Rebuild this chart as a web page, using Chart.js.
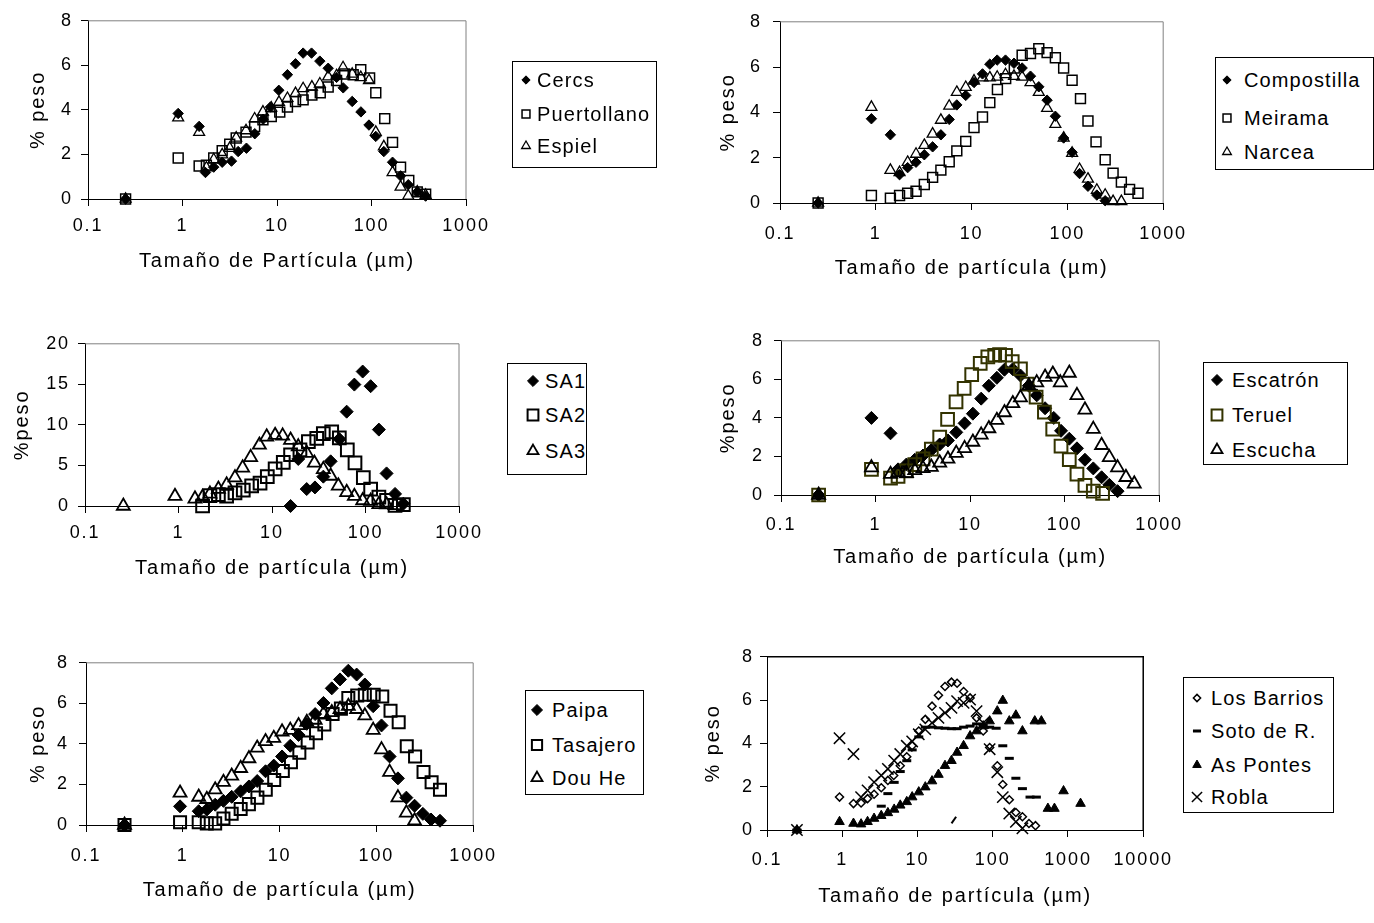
<!DOCTYPE html>
<html>
<head>
<meta charset="utf-8">
<script src="https://cdn.jsdelivr.net/npm/chart.js@4.4.0/dist/chart.umd.min.js"></script>
<style>
  body { margin: 0; width: 1374px; height: 923px; position: relative; overflow: hidden; background: #fff;
         font-family: "Liberation Sans", Arial, sans-serif; }
  canvas.panel { position: absolute; }
  .legend { position: absolute; border: 1px solid #000; background: #fff; box-sizing: border-box; }
  .legend span { position: absolute; font-size: 20px; letter-spacing: 1.1px; line-height: 1; color: #000; white-space: nowrap; transform: translateY(-50%); }
  .legend canvas { position: absolute; }
</style>
</head>
<body>
<canvas id="c1" class="panel"></canvas>
<canvas id="c2" class="panel"></canvas>
<canvas id="c3" class="panel"></canvas>
<canvas id="c4" class="panel"></canvas>
<canvas id="c5" class="panel"></canvas>
<canvas id="c6" class="panel"></canvas>
<script>
// ---- data: [particle size (µm), % peso] ----
const cercs = [[0.25,0],[0.9,3.84],[1.5,3.26],[1.75,1.19],[2.14,1.43],[2.63,1.65],[3.3,1.7],[3.88,2.13],[4.75,2.28],[5.82,2.93],[7.13,3.58],[8.53,4.13],[10.45,4.88],[12.9,5.58],[15.7,6.07],[18.9,6.55],[23.2,6.55],[28.4,6.19],[34.8,5.87],[42.7,5.46],[50.2,4.99],[62.5,4.38],[77.3,3.91],[94,3.32],[111,2.81],[135,2.13],[167,1.65],[203,1.04],[245,0.64],[305,0.32],[374,0.13]];
const puertollano = [[0.25,0],[0.9,1.84],[1.5,1.48],[1.79,1.52],[2.14,1.84],[2.63,2.17],[3.16,2.46],[3.7,2.74],[4.7,3.0],[5.8,3.25],[7.1,3.55],[8.7,3.7],[10.7,3.9],[12.9,4.13],[15.7,4.38],[18.9,4.45],[23.4,4.67],[28.7,4.77],[34.8,5.03],[42.7,5.32],[52,5.61],[64,5.58],[77,5.8],[95.5,5.43],[111,4.77],[138,3.61],[167,2.54],[203,1.43],[248,0.83],[305,0.32],[374,0.22]];
const espiel = [[0.25,0],[0.9,3.65],[1.5,3.0],[1.79,1.4],[2.14,1.77],[2.63,1.99],[3.16,2.28],[3.7,2.74],[4.7,3.07],[5.8,3.6],[7.1,3.91],[8.7,4.09],[10.5,4.35],[12.9,4.52],[15.7,4.74],[18.9,4.96],[23.4,5.03],[28.4,5.17],[34.8,5.49],[42.7,5.54],[50,5.9],[62.5,5.61],[77,5.46],[94,5.32],[111,3.0],[135,2.35],[167,1.19],[203,0.54],[245,0.14],[305,0.32],[374,0.17]];

const compostilla = [[0.25,0],[0.9,3.72],[1.42,3.01],[1.77,1.25],[2.15,1.56],[2.63,1.8],[3.21,2.13],[3.92,2.48],[4.78,3.01],[5.84,3.69],[7.01,4.33],[8.69,4.75],[10.6,5.32],[13,5.7],[15.5,6.13],[18.5,6.31],[22.6,6.31],[27.7,6.17],[33.7,5.96],[41.2,5.6],[50.3,5.13],[61.4,4.54],[74.9,3.83],[91.4,2.87],[112,2.24],[134,1.3],[164,0.74],[203,0.35],[248,0.1]];
const meirama = [[0.25,0],[0.9,0.33],[1.42,0.21],[1.77,0.33],[2.15,0.43],[2.63,0.52],[3.21,0.82],[3.92,1.13],[4.78,1.45],[5.84,1.82],[7.01,2.3],[8.69,2.72],[10.6,3.33],[13,3.8],[15.5,4.43],[18.6,5.01],[22.7,5.49],[27.9,5.96],[33.7,6.52],[41.2,6.6],[50.3,6.81],[61.4,6.64],[74.9,6.41],[91.4,5.96],[112,5.42],[137,4.61],[164,3.62],[199,2.7],[248,1.91],[300,1.32],[366,0.92],[446,0.6],[546,0.43]];
const narcea = [[0.25,0],[0.9,4.23],[1.42,1.45],[1.77,1.35],[2.15,1.8],[2.63,2.16],[3.21,2.55],[3.92,3.05],[4.78,3.66],[5.84,4.28],[7.01,4.89],[8.69,5.11],[10.6,5.39],[13,5.53],[15.5,5.53],[18.5,5.56],[22.6,5.67],[27.7,5.6],[33.7,5.56],[41.2,5.32],[50.3,4.89],[61.4,4.18],[74.9,3.48],[91.4,2.87],[112,2.2],[134,1.49],[164,1.06],[203,0.57],[248,0.35],[300,0.07],[366,0.07]];

const sa1 = [[15.8,0],[19.1,5.8],[23.5,2.09],[28.8,2.29],[35.4,3.62],[42.4,5.51],[52.5,8.25],[62.9,11.63],[76,14.97],[93.3,16.58],[113.5,14.77],[139,9.42],[168,4.02],[207,1.49],[254,0.28]];
const sa2 = [[1.81,0],[2.17,1.29],[2.67,1.41],[3.27,1.21],[4.02,1.61],[4.93,1.97],[6.06,2.49],[7.45,2.82],[8.91,3.62],[10.8,4.59],[13.2,5.39],[15.8,6.32],[19.9,6.92],[24.5,7.93],[30.1,8.33],[35.4,8.93],[43.5,9.13],[52.5,8.41],[63.9,6.92],[77.2,5.31],[94.8,3.5],[113.5,2.09],[139,1.09],[168,0.68],[207,0.08],[254,0.16]];
const sa3 = [[0.257,0],[0.917,1.21],[1.5,0.89],[1.81,1.09],[2.17,1.49],[2.67,2.09],[3.27,2.62],[4.02,3.5],[4.85,4.71],[5.91,6.0],[7.33,7.53],[8.77,8.53],[10.8,8.73],[13,8.65],[15.8,8.13],[19.1,7.32],[23.5,6.52],[28.4,5.31],[35.4,4.51],[42.4,3.7],[51.2,2.49],[62.9,1.69],[76,1.21],[93.3,0.68],[113.5,0.6],[139,0.2],[168,0.16],[207,0.08]];

const escatron = [[0.25,0],[0.905,4.0],[1.44,3.2],[1.73,1.33],[2.12,1.58],[2.6,1.83],[3.18,2.05],[3.89,2.33],[4.77,2.62],[5.83,2.83],[7.14,3.25],[8.75,3.72],[10.7,4.22],[13.1,5.0],[15.8,5.67],[19.2,6.08],[23.1,6.5],[28.3,6.53],[34.1,6.2],[41.8,5.67],[50.7,5.17],[62.1,4.5],[76.7,4.0],[91.6,3.33],[112,2.92],[135,2.42],[164,1.83],[201,1.38],[246,0.92],[297,0.53],[363,0.2]];
const teruel = [[0.25,0],[0.905,1.33],[1.44,0.88],[1.73,0.97],[2.12,1.25],[2.6,1.58],[3.18,1.87],[3.89,2.38],[4.77,3.0],[5.78,3.92],[7.1,4.83],[8.65,5.53],[10.4,6.25],[12.8,6.83],[15.4,7.17],[18.2,7.25],[20.5,7.28],[23.7,7.25],[27.9,6.92],[34.1,6.55],[40.1,5.75],[49.9,5.08],[61.1,4.3],[74.8,3.42],[91.6,2.53],[112,1.83],[135,1.08],[164,0.5],[201,0.2],[252,0.08]];
const escucha = [[0.25,0],[0.905,1.42],[1.44,1.08],[1.73,1.17],[2.12,1.12],[2.6,1.28],[3.18,1.38],[3.89,1.45],[4.77,1.67],[5.83,1.87],[7.14,2.17],[8.75,2.42],[10.7,2.75],[13.1,3.12],[15.8,3.45],[19.2,3.88],[23.1,4.28],[28.3,4.75],[34.1,5.05],[41.8,5.67],[50.7,5.83],[62.1,6.12],[75,6.28],[90,5.83],[112,6.33],[135,5.17],[164,4.42],[201,3.42],[246,2.58],[297,1.95],[363,1.42],[445,0.92],[545,0.58]];

const paipa = [[0.25,0],[0.937,0.92],[1.46,0.68],[1.77,0.76],[2.16,1.0],[2.63,1.19],[3.2,1.39],[3.96,1.66],[4.82,1.9],[5.87,2.17],[7.16,2.65],[8.71,2.93],[10.6,3.38],[12.9,3.91],[15.7,4.44],[19.1,4.99],[23.3,5.47],[28.4,6.02],[34.6,6.74],[42.1,7.18],[51.3,7.61],[62.5,7.42],[76,6.93],[92.7,5.86],[113,4.91],[137,3.38],[167,2.3],[204,1.35],[248,0.95],[302,0.55],[367,0.27],[454,0.21]];
const tasajero = [[0.25,0],[0.937,0.13],[1.46,0.13],[1.77,0.08],[2.16,0.08],[2.63,0.32],[3.2,0.55],[3.96,0.79],[4.82,1.03],[5.9,1.35],[7.2,1.74],[8.8,2.22],[10.8,2.66],[13.1,3.09],[16,3.57],[19.5,4.07],[23.8,4.52],[29,4.96],[35.3,5.47],[43,5.74],[51.3,6.26],[63.4,6.39],[76,6.42],[93.8,6.42],[115,6.34],[140,5.63],[170,5.07],[206,3.88],[251,3.38],[307,2.61],[372,2.11],[454,1.74]];
const douHe = [[0.25,0],[0.937,1.58],[1.46,1.38],[1.77,1.27],[2.16,1.74],[2.63,2.11],[3.2,2.42],[3.96,2.8],[4.82,3.28],[5.87,3.8],[7.16,4.12],[8.71,4.28],[10.6,4.6],[12.9,4.68],[15.7,4.91],[19.1,5.07],[23.3,5.18],[28.4,5.47],[34.6,5.55],[42.1,5.71],[51.3,5.86],[62.5,5.71],[76,5.39],[92.7,4.68],[113,3.72],[137,2.61],[167,1.35],[204,0.6],[248,0.21]];

const losBarrios = [[0.25,0],[0.92,1.52],[1.41,1.22],[1.78,1.25],[2.17,1.45],[2.65,1.65],[3.3,1.95],[4.04,2.29],[4.83,2.52],[5.9,2.97],[7.2,3.38],[8.5,3.89],[10.4,4.57],[12.7,5.11],[15.6,5.72],[19,6.22],[23.2,6.63],[28.3,6.83],[33.6,6.78],[41,6.4],[50,6.1],[61,5.18],[74.7,4.57],[91,3.81],[115,2.97],[136,2.1],[166,1.4],[203,0.81],[248,0.61],[303,0.3],[370,0.2]];
const sotoR = [[0.25,0],[3.3,1.1],[4.04,1.68],[4.9,2.2],[5.9,2.7],[7.2,3.2],[8.5,3.7],[10.4,4.3],[12.7,4.75],[15.6,4.75],[19,4.72],[23.2,4.7],[28.3,4.68],[33.6,4.68],[41,4.75],[50,4.8],[61,4.9],[74.7,4.85],[91,4.75],[111,4.7],[136,3.89],[166,3.31],[203,2.39],[248,1.91],[313,1.52],[380,1.52]];
const sotoStray = [[30.4,0.46]];
const asPontes = [[0.25,0],[0.92,0.38],[1.41,0.3],[1.78,0.27],[2.17,0.38],[2.65,0.53],[3.3,0.66],[4.04,0.79],[4.9,0.95],[5.9,1.14],[7.2,1.3],[8.5,1.52],[10.4,1.75],[12.7,1.98],[15.6,2.26],[19,2.56],[23.2,2.97],[28.3,3.2],[33.6,3.58],[41,3.89],[50,4.34],[61,4.57],[74.7,4.8],[91,5.03],[115,5.49],[136,5.98],[166,5.03],[203,5.3],[248,4.57],[362,5.03],[443,5.03],[541,0.99],[661,0.99],[873,1.8],[1469,1.22]];
const robla = [[0.25,0],[0.92,4.24],[1.41,3.51],[1.78,1.52],[2.17,1.83],[2.65,2.21],[3.3,2.52],[4.04,2.82],[4.9,3.2],[5.9,3.51],[7.2,3.89],[8.5,4.09],[10.4,4.42],[12.7,4.65],[15.6,4.95],[19,5.18],[23.2,5.41],[28.3,5.64],[33.6,5.95],[41,5.87],[50,6.02],[61,5.49],[74.7,4.95],[91,3.73],[115,2.67],[136,1.52],[166,0.76],[203,0.38],[248,0.08]];

const xTicks3 = [0.1, 1, 10, 100, 1000];
const xTicks4 = [0.1, 1, 10, 100, 1000, 10000];

// ---- marker helpers ----
const FONT = '"Liberation Sans", Arial, sans-serif';
const NONE = 'rgba(0,0,0,0)';
const mk = (style, r, fill, stroke, bw, rot) => ({ style, r, fill, stroke, bw, rot: rot || 0 });
const diamond = r => mk('rectRot', r, '#000', '#000', 1);
const square = (r, c, bw) => mk('rect', r, NONE, c || '#000', bw);
const triangle = (r, bw) => mk('triangle', r, NONE, '#000', bw);

const panels = [
  { id: 'c1', plot: { l: 88, t: 17, r: 466, b: 199 }, yw: 66, xh: 78, yPad: 8, xPad: 9,
    yMax: 8, yStep: 2, xMax: 1000, xTicks: xTicks3, frame: '#808080', frameW: 1,
    yTitle: '% peso', xTitle: 'Tamaño de Partícula (µm)',
    legend: { l: 512, t: 61, w: 145, h: 107, mx: 526, tx: 537, rows: [80, 114, 146], k: 0.8 },
    series: [
      { label: 'Cercs', data: cercs, m: diamond(5.2) },
      { label: 'Puertollano', data: puertollano, m: square(7, '#000', 1.5) },
      { label: 'Espiel', data: espiel, m: triangle(6.3, 1.3) } ] },
  { id: 'c2', plot: { l: 780, t: 15, r: 1166, b: 203 }, yw: 68, xh: 81, yPad: 11, xPad: 13,
    yMax: 8, yStep: 2, xMax: 1000, xTicks: xTicks3, frame: '#808080', frameW: 1,
    yTitle: '% peso', xTitle: 'Tamaño de partícula (µm)',
    legend: { l: 1215, t: 57, w: 159, h: 113, mx: 1227, tx: 1244, rows: [80, 118, 152], k: 0.8 },
    series: [
      { label: 'Compostilla', data: compostilla, m: diamond(5.2) },
      { label: 'Meirama', data: meirama, m: square(7, '#000', 1.5) },
      { label: 'Narcea', data: narcea, m: triangle(6.3, 1.3) } ] },
  { id: 'c3', plot: { l: 85, t: 340, r: 459, b: 506 }, yw: 79, xh: 78, yPad: 8, xPad: 9,
    yMax: 20, yStep: 5, xMax: 1000, xTicks: xTicks3, frame: '#808080', frameW: 1,
    yTitle: '%peso', xTitle: 'Tamaño de partícula (µm)',
    legend: { l: 507, t: 363, w: 80, h: 112, mx: 533, tx: 545, rows: [381, 415, 451], k: 0.85 },
    series: [
      { label: 'SA1', data: sa1, m: diamond(6.5) },
      { label: 'SA2', data: sa2, m: square(9, '#000', 2) },
      { label: 'SA3', data: sa3, m: triangle(7.5, 1.8) } ] },
  { id: 'c4', plot: { l: 781, t: 335, r: 1161, b: 495 }, yw: 69, xh: 78, yPad: 10, xPad: 12,
    yMax: 8, yStep: 2, xMax: 1000, xTicks: xTicks3, frame: '#808080', frameW: 1,
    yTitle: '%peso', xTitle: 'Tamaño de partícula (µm)',
    legend: { l: 1203, t: 362, w: 145, h: 103, mx: 1217, tx: 1232, rows: [380, 415, 450], k: 0.85 },
    series: [
      { label: 'Escatrón', data: escatron, m: diamond(6.5) },
      { label: 'Teruel', data: teruel, m: square(9, '#333300', 2) },
      { label: 'Escucha', data: escucha, m: triangle(7.5, 1.8) } ] },
  { id: 'c5', plot: { l: 86, t: 657, r: 476, b: 825 }, yw: 64, xh: 81, yPad: 10, xPad: 13,
    yMax: 8, yStep: 2, xMax: 1000, xTicks: xTicks3, frame: '#808080', frameW: 1,
    yTitle: '% peso', xTitle: 'Tamaño de partícula (µm)',
    legend: { l: 525, t: 690, w: 119, h: 105, mx: 537, tx: 552, rows: [710, 745, 778], k: 0.85 },
    series: [
      { label: 'Paipa', data: paipa, m: diamond(6.5) },
      { label: 'Tasajero', data: tasajero, m: square(8.5, '#000', 2) },
      { label: 'Dou He', data: douHe, m: triangle(7.5, 1.8) } ] },
  { id: 'c6', plot: { l: 767, t: 655, r: 1151, b: 830 }, yw: 70, xh: 82, yPad: 6, xPad: 12,
    yMax: 8, yStep: 2, xMax: 10000, xTicks: xTicks4, frame: '#000', frameW: 1.5,
    yTitle: '% peso', xTitle: 'Tamaño de partícula (µm)',
    legend: { l: 1183, t: 677, w: 151, h: 136, mx: 1197, tx: 1211, rows: [698, 731, 765, 797], k: 0.9 },
    series: [
      { label: 'Los Barrios', data: losBarrios, m: mk('rectRot', 4, NONE, '#000', 1.5) },
      { label: 'Soto de R.', data: sotoR, m: mk('line', 4.5, '#000', '#000', 3) },
      { label: 'As Pontes', data: asPontes, m: mk('triangle', 5.5, '#000', '#000', 1) },
      { label: 'Robla', data: robla, m: mk('crossRot', 8, NONE, '#000', 1.5) },
      { label: null, data: sotoStray, m: mk('line', 4, '#000', '#000', 2, -55) } ] }
];

// the reference text is set wide; widen canvas text a little
const spacingPlugin = {
  id: 'spacing',
  beforeLayout(chart) { chart.ctx.letterSpacing = '1.9px'; },
  beforeDraw(chart) { chart.ctx.letterSpacing = '1.9px'; },
};

// gray top/right border of the plot area (left/bottom are the axes)
const framePlugin = {
  id: 'frame',
  beforeDatasetsDraw(chart, args, opts) {
    const { ctx, chartArea: a } = chart;
    ctx.save();
    ctx.strokeStyle = opts.color;
    ctx.lineWidth = opts.width;
    ctx.beginPath();
    ctx.moveTo(a.left, a.top);
    ctx.lineTo(a.right, a.top);
    ctx.lineTo(a.right, a.bottom);
    ctx.stroke();
    ctx.restore();
  }
};

function axisFont(size) { return { family: FONT, size: size }; }

function makePanel(p) {
  const cv = document.getElementById(p.id);
  const left = p.plot.l - p.yw, top = p.plot.t - 15;
  const w = p.plot.r + 34 - left, h = p.plot.b + p.xh - top;
  cv.width = w; cv.height = h;
  Object.assign(cv.style, { left: left + 'px', top: top + 'px', width: w + 'px', height: h + 'px' });

  const n = p.series.length;
  new Chart(cv, {
    type: 'scatter',
    data: {
      datasets: p.series.map((s, i) => ({
        label: s.label || '',
        data: s.data.map(([x, y]) => ({ x, y })),
        order: n - i,
        clip: false,
        pointStyle: s.m.style,
        pointRadius: s.m.r,
        pointRotation: s.m.rot,
        pointBackgroundColor: s.m.fill,
        pointBorderColor: s.m.stroke,
        pointBorderWidth: s.m.bw,
      })),
    },
    options: {
      responsive: false,
      animation: false,
      events: [],
      layout: { padding: { top: 15, right: 34, left: 0, bottom: 0 } },
      plugins: {
        legend: { display: false },
        tooltip: { enabled: false },
        frame: { color: p.frame, width: p.frameW },
      },
      scales: {
        x: {
          type: 'logarithmic',
          min: 0.1,
          max: p.xMax,
          afterBuildTicks: sc => { sc.ticks = p.xTicks.map(v => ({ value: v })); },
          afterFit: sc => { sc.height = p.xh; },
          ticks: { callback: v => String(v), color: '#000', font: axisFont(18), padding: p.xPad, maxRotation: 0, autoSkip: false },
          grid: { drawOnChartArea: false, color: '#000', tickLength: 7 },
          border: { color: '#000', width: 1 },
          title: { display: true, text: p.xTitle, color: '#000', font: axisFont(20), padding: { top: 4, bottom: 4 } },
        },
        y: {
          min: 0,
          max: p.yMax,
          afterFit: sc => { sc.width = p.yw; },
          ticks: { stepSize: p.yStep, color: '#000', font: axisFont(18), padding: p.yPad },
          grid: { drawOnChartArea: false, color: '#000', tickLength: 7 },
          border: { color: '#000', width: 1 },
          title: { display: true, text: p.yTitle, color: '#000', font: axisFont(20), padding: { top: 4, bottom: 4 } },
        },
      },
    },
    plugins: [spacingPlugin, framePlugin],
  });
}

function drawMarker(cv, m, k) {
  const ctx = cv.getContext('2d');
  ctx.fillStyle = m.fill;
  ctx.strokeStyle = m.stroke;
  ctx.lineWidth = m.bw;
  Chart.helpers.drawPoint(ctx, { pointStyle: m.style, radius: m.r * k, borderWidth: m.bw, rotation: m.rot }, cv.width / 2, cv.height / 2);
}

function makeLegend(p) {
  const lg = p.legend;
  const box = document.createElement('div');
  box.className = 'legend';
  Object.assign(box.style, { left: lg.l + 'px', top: lg.t + 'px', width: lg.w + 'px', height: lg.h + 'px' });
  document.body.appendChild(box);
  p.series.filter(s => s.label).forEach((s, i) => {
    const cv = document.createElement('canvas');
    cv.width = 24; cv.height = 24;
    Object.assign(cv.style, { left: (lg.mx - lg.l - 13) + 'px', top: (lg.rows[i] - lg.t - 13) + 'px' });
    box.appendChild(cv);
    drawMarker(cv, s.m, lg.k);
    const sp = document.createElement('span');
    sp.textContent = s.label;
    Object.assign(sp.style, { left: (lg.tx - lg.l - 1) + 'px', top: (lg.rows[i] - lg.t - 1) + 'px' });
    box.appendChild(sp);
  });
}

panels.forEach(p => { makePanel(p); makeLegend(p); });
</script>
</body>
</html>
